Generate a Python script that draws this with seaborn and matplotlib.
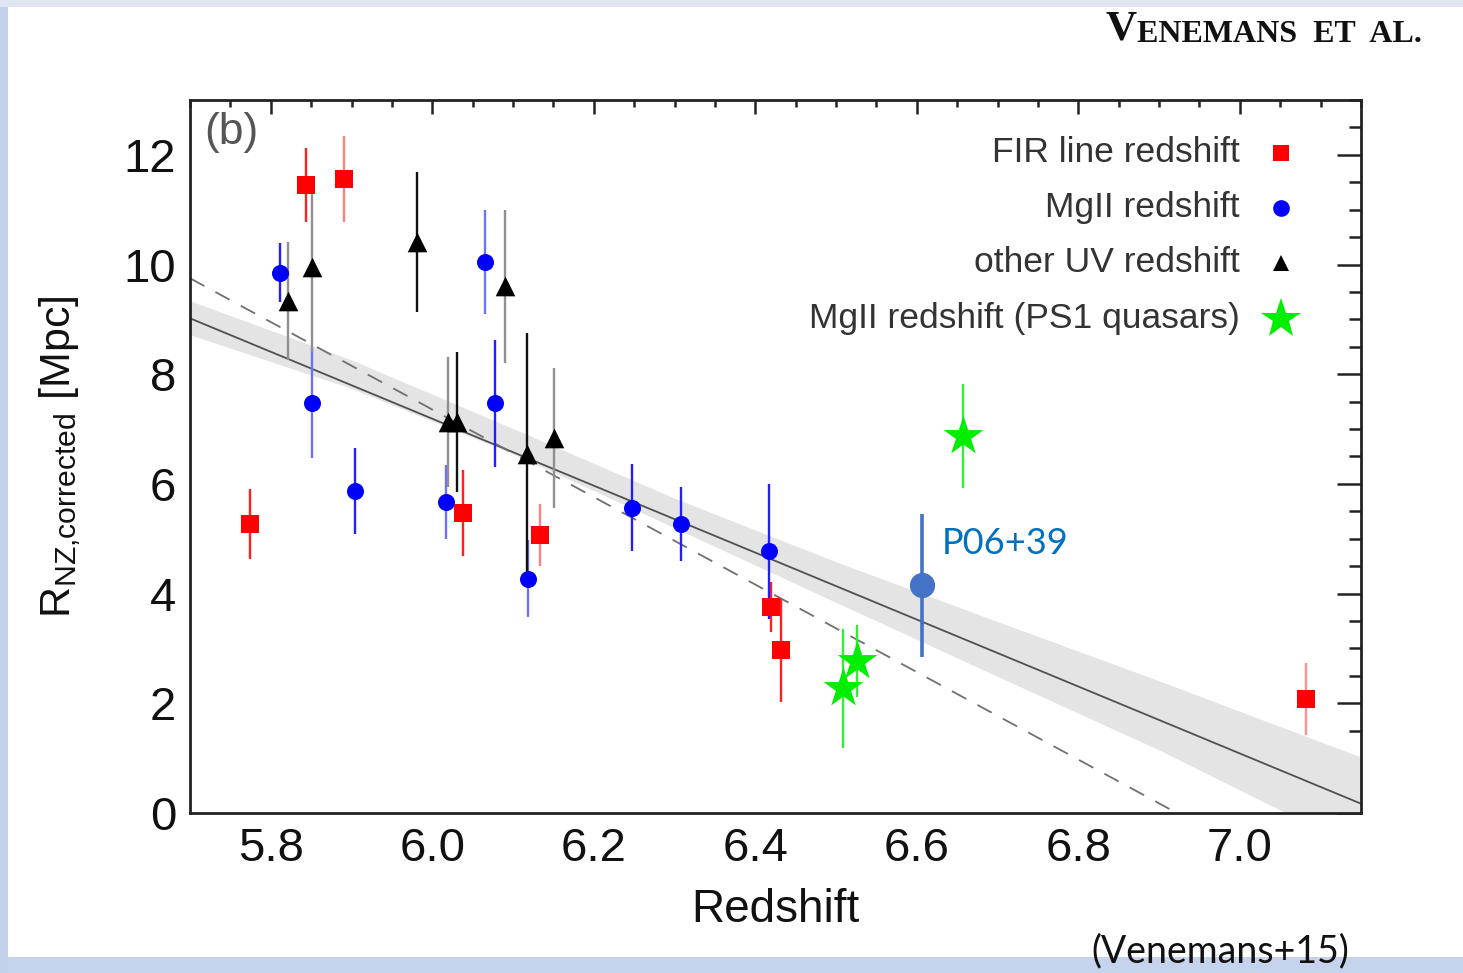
import numpy as np
import pandas as pd
import matplotlib
matplotlib.use("Agg")
import matplotlib.pyplot as plt
import seaborn as sns
from matplotlib.patches import Rectangle
from matplotlib.ticker import MultipleLocator

# ---------------- data ----------------
fir_z = [5.774, 5.844, 5.891, 6.038, 6.133, 6.419, 6.432, 7.082]
fir_r = [5.27, 11.45, 11.56, 5.47, 5.07, 3.76, 2.97, 2.08]
fir_err = [0.64, 0.67, 0.78, 0.78, 0.57, 0.46, 0.94, 0.66]

mg_z = [5.811, 5.851, 5.904, 6.017, 6.065, 6.078, 6.118, 6.247, 6.308, 6.417]
mg_r = [9.85, 7.47, 5.87, 5.67, 10.05, 7.47, 4.27, 5.57, 5.27, 4.77]
mg_err = [0.54, 1.00, 0.79, 0.67, 0.95, 1.16, 0.70, 0.79, 0.67, 1.23]

uv_z = [5.821, 5.851, 5.981, 6.020, 6.030, 6.090, 6.117, 6.151]
uv_r = [9.34, 9.95, 10.41, 7.13, 7.13, 9.60, 6.55, 6.84]
uv_err = [1.08, 1.55, 1.28, 1.19, 1.28, 1.40, 2.20, 1.28]

ps1_z = [6.508, 6.526, 6.657]
ps1_r = [2.27, 2.77, 6.87]
ps1_err = [1.09, 0.65, 0.95]

p06_z = [6.607]
p06_r = [4.15]
p06_err = [1.30]
p06_label = "P06+39"

fit_z = [5.70, 7.15]
fit_r = [9.02, 0.17]
band_z = [5.70, 5.90, 6.10, 6.30, 6.50, 6.70, 6.90, 7.15]
band_lo = [8.72, 7.74, 6.55, 5.20, 3.84, 2.49, 1.15, -0.68]
band_hi = [9.34, 8.26, 7.01, 5.74, 4.58, 3.49, 2.41, 1.02]
dash_z = [5.70, 6.922]
dash_r = [9.75, 0.0]

legend_labels = ["FIR line redshift", "MgII redshift", "other UV redshift",
                 "MgII redshift (PS1 quasars)"]
x_ticks = [5.8, 6.0, 6.2, 6.4, 6.6, 6.8, 7.0]
y_ticks = [0, 2, 4, 6, 8, 10, 12]

# ---------------- styling ----------------
sns.set_theme(style="white")
plt.rcParams["font.family"] = ["Liberation Sans", "DejaVu Sans"]
plt.rcParams["mathtext.fontset"] = "custom"
plt.rcParams["mathtext.rm"] = "Liberation Sans"
plt.rcParams["mathtext.it"] = "Liberation Sans"

RED = "#ff0000"
BLUE = "#0000ff"
GREEN = "#00ee00"
fir_ecol = ["#ff2020", "#ff2020", "#ff8080", "#ff2020", "#ff8080", "#ff2020", "#ff2020", "#ff9090"]
mg_ecol = ["#2020ff", "#7070ff", "#2020ff", "#7070ff", "#7070ff", "#2020ff", "#7070ff", "#2020ff", "#2020ff", "#2020ff"]
uv_ecol = ["#909090", "#909090", "#111111", "#909090", "#111111", "#909090", "#111111", "#909090"]

fig = plt.figure(figsize=(14.63, 9.73), dpi=100)
fig.patch.set_facecolor("white")

# slide background bands
fig.add_artist(Rectangle((0, 0), 1, 16 / 973, transform=fig.transFigure,
                         facecolor="#c5d4ec", edgecolor="none", zorder=0))
fig.add_artist(Rectangle((0, 0), 8 / 1463, 1, transform=fig.transFigure,
                         facecolor="#c3d2ea", edgecolor="none", zorder=0))
fig.add_artist(Rectangle((0, 1 - 7 / 973), 1, 7 / 973, transform=fig.transFigure,
                         facecolor="#dfe6f2", edgecolor="none", zorder=0))

ax = fig.add_axes([190 / 1463, 1 - 813 / 973, (1361 - 190) / 1463, (813 - 100) / 973])
ax.set_facecolor("white")

# fit band and lines
ax.fill_between(band_z, band_lo, band_hi, color="#e4e4e4", lw=0, zorder=1)
sns.lineplot(x=fit_z, y=fit_r, ax=ax, color="#505050", lw=1.3, zorder=2)
sns.lineplot(x=dash_z, y=dash_r, ax=ax, color="#707070", lw=1.3, zorder=2,
             dashes=False).lines[-1].set_dashes((9, 7))

def errs(z, r, e, cols, lw=1.7):
    for zi, ri, ei, c in zip(z, r, e, cols):
        ax.errorbar([zi], [ri], yerr=[ei], fmt="none", ecolor=c, elinewidth=lw,
                    capsize=0, zorder=3)

errs(fir_z, fir_r, fir_err, fir_ecol)
errs(mg_z, mg_r, mg_err, mg_ecol)
errs(uv_z, uv_r, uv_err, uv_ecol)
errs(ps1_z, ps1_r, ps1_err, ["#33ee33"] * 3)
errs(p06_z, p06_r, p06_err, ["#4472c4"], lw=2.6)

sns.scatterplot(x=fir_z, y=fir_r, ax=ax, marker="s", color=RED, s=180, linewidth=0, zorder=4)
sns.scatterplot(x=mg_z, y=mg_r, ax=ax, marker="o", color=BLUE, s=150, linewidth=0, zorder=4)
sns.scatterplot(x=uv_z, y=uv_r, ax=ax, marker="^", color="black", s=200, linewidth=0, zorder=4)
sns.scatterplot(x=ps1_z, y=ps1_r, ax=ax, marker="*", color=GREEN, s=900, linewidth=0, zorder=4)
sns.scatterplot(x=p06_z, y=p06_r, ax=ax, marker="o", color="#4472c4", s=330, linewidth=0, zorder=5)

ax.text(6.631, 4.91, p06_label, color="#0070c0", fontsize=26, va="center", ha="left",
        family=["Lato", "DejaVu Sans"], zorder=6)

ax.set_xlim(5.7, 7.15)
ax.set_ylim(0, 13)
ax.set_xticks(x_ticks)
ax.set_xticklabels([f"{v:.1f}" for v in x_ticks])
ax.set_yticks(y_ticks)
ax.set_yticklabels([str(v) for v in y_ticks])
ax.xaxis.set_minor_locator(MultipleLocator(0.05))
ax.yaxis.set_minor_locator(MultipleLocator(0.5))
ax.tick_params(axis="both", which="both", direction="in", top=True, right=True,
               color="#222222", width=1.8, labelcolor="#111111")
ax.tick_params(axis="x", which="major", length=10, labelsize=34, pad=10)
ax.tick_params(axis="x", which="minor", length=5)
ax.tick_params(axis="y", which="major", length=17, labelsize=34, pad=10)
ax.tick_params(axis="y", which="minor", length=9)
for sp in ax.spines.values():
    sp.set_color("#222222")
    sp.set_linewidth(2)

ax.set_xlabel("Redshift", fontsize=33, color="#111111", labelpad=12)
ax.set_ylabel(r"$\mathregular{R_{NZ{,}corrected}}$ [Mpc]", fontsize=31, color="#111111",
              labelpad=29)

ax.text(0.012, 0.955, "(b)", transform=ax.transAxes, fontsize=32, color="#555555",
        ha="left", va="center")

# legend (text right-aligned, marker on the right)
leg_y = [0.926, 0.849, 0.772, 0.693]
leg_style = [("s", RED, 12), ("o", BLUE, 12), ("^", "black", 11), ("*", GREEN, 30)]
for lab, yy, (m, c, ms) in zip(legend_labels, leg_y, leg_style):
    ax.text(0.8967, yy, lab, transform=ax.transAxes, fontsize=25.5, color="#333333",
            ha="right", va="center")
    ax.plot([0.9317], [yy], marker=m, color=c, markersize=ms, markeredgewidth=0,
            transform=ax.transAxes, clip_on=False, zorder=6)

# header and citation
t_rest = fig.text(1422 / 1463, 1 - 42 / 973, "ENEMANS  ET  AL.", fontsize=23,
                  family=["Liberation Serif", "DejaVu Serif"], color="#111111",
                  ha="right", va="baseline", weight="bold")
ax.annotate("V", xy=(0, 0), xycoords=t_rest, ha="right", va="bottom", fontsize=31,
            family=["Liberation Serif", "DejaVu Serif"], color="#111111", weight="bold",
            annotation_clip=False)

fig.text(0.834, 0.022, "(Venemans+15)", fontsize=27, family=["Lato", "DejaVu Sans"],
         color="#111111", ha="center", va="center")

fig.savefig("out.png", dpi=100, facecolor=fig.get_facecolor())
